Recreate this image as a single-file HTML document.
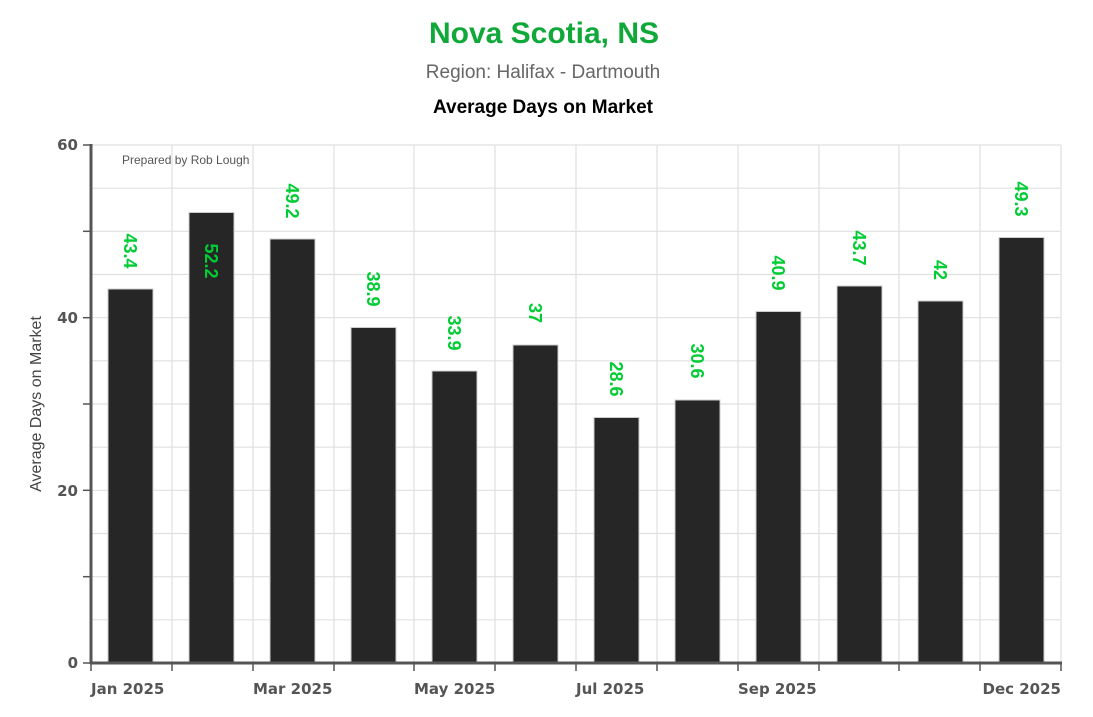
<!DOCTYPE html>
<html><head><meta charset="utf-8"><style>
body{margin:0;background:#fff;width:1093px;height:712px;overflow:hidden;font-family:"Liberation Sans",sans-serif}
</style></head><body>
<svg width="1093" height="712" xmlns="http://www.w3.org/2000/svg" font-family="Liberation Sans, sans-serif">
<text x="544" y="43" text-anchor="middle" font-size="30" font-weight="bold" fill="#11a83a">Nova Scotia, NS</text>
<text x="543" y="78" text-anchor="middle" font-size="19" fill="#666">Region: Halifax - Dartmouth</text>
<text x="543" y="113" text-anchor="middle" font-size="19" font-weight="bold" fill="#000">Average Days on Market</text>
<g stroke="#e0e0e0" stroke-width="1.2">
<line x1="91" y1="145" x2="1061" y2="145"/><line x1="91" y1="188.2" x2="1061" y2="188.2"/><line x1="91" y1="231.3" x2="1061" y2="231.3"/><line x1="91" y1="274.5" x2="1061" y2="274.5"/><line x1="91" y1="317.7" x2="1061" y2="317.7"/><line x1="91" y1="360.8" x2="1061" y2="360.8"/><line x1="91" y1="404" x2="1061" y2="404"/><line x1="91" y1="447.2" x2="1061" y2="447.2"/><line x1="91" y1="490.3" x2="1061" y2="490.3"/><line x1="91" y1="533.5" x2="1061" y2="533.5"/><line x1="91" y1="576.7" x2="1061" y2="576.7"/><line x1="91" y1="619.8" x2="1061" y2="619.8"/>
<line x1="172" y1="145" x2="172" y2="663"/><line x1="253" y1="145" x2="253" y2="663"/><line x1="334" y1="145" x2="334" y2="663"/><line x1="414" y1="145" x2="414" y2="663"/><line x1="495" y1="145" x2="495" y2="663"/><line x1="576" y1="145" x2="576" y2="663"/><line x1="657" y1="145" x2="657" y2="663"/><line x1="738" y1="145" x2="738" y2="663"/><line x1="819" y1="145" x2="819" y2="663"/><line x1="899" y1="145" x2="899" y2="663"/><line x1="980" y1="145" x2="980" y2="663"/><line x1="1061" y1="145" x2="1061" y2="663"/>
</g>
<text x="122" y="164" font-size="12" fill="#555">Prepared by Rob Lough</text>
<g fill="#262626" stroke="#ccc" stroke-width="1">
<rect x="108" y="289" width="45" height="373"/>
<rect x="189" y="212.5" width="45" height="449.5"/>
<rect x="270" y="239" width="45" height="423"/>
<rect x="351" y="327.5" width="45" height="334.5"/>
<rect x="432" y="371" width="45" height="291"/>
<rect x="513" y="345" width="45" height="317"/>
<rect x="594" y="417.5" width="45" height="244.5"/>
<rect x="675" y="400" width="45" height="262"/>
<rect x="756" y="311.5" width="45" height="350.5"/>
<rect x="837" y="286" width="45" height="376"/>
<rect x="918" y="301" width="45" height="361"/>
<rect x="999" y="237.5" width="45" height="424.5"/>
</g>
<g font-size="18" font-weight="bold" fill="#00cc33" text-anchor="middle">
<text transform="translate(124,251) rotate(90)">43.4</text>
<text transform="translate(205,261) rotate(90)">52.2</text>
<text transform="translate(286,201) rotate(90)">49.2</text>
<text transform="translate(367,289) rotate(90)">38.9</text>
<text transform="translate(448,333) rotate(90)">33.9</text>
<text transform="translate(529,313) rotate(90)">37</text>
<text transform="translate(610,379) rotate(90)">28.6</text>
<text transform="translate(691,361) rotate(90)">30.6</text>
<text transform="translate(772,273) rotate(90)">40.9</text>
<text transform="translate(853,248) rotate(90)">43.7</text>
<text transform="translate(934,270) rotate(90)">42</text>
<text transform="translate(1015,199) rotate(90)">49.3</text>
</g>
<g stroke="#555">
<line x1="91" y1="144" x2="91" y2="664" stroke-width="3"/>
<line x1="90" y1="663" x2="1062" y2="663" stroke-width="3"/>
<line x1="83" y1="145" x2="91" y2="145" stroke-width="1.5"/><line x1="83" y1="231.3" x2="91" y2="231.3" stroke-width="1.5"/><line x1="83" y1="317.7" x2="91" y2="317.7" stroke-width="1.5"/><line x1="83" y1="404" x2="91" y2="404" stroke-width="1.5"/><line x1="83" y1="490.3" x2="91" y2="490.3" stroke-width="1.5"/><line x1="83" y1="576.7" x2="91" y2="576.7" stroke-width="1.5"/><line x1="83" y1="663" x2="91" y2="663" stroke-width="1.5"/>
<g stroke-width="1.5"><line x1="91" y1="663" x2="91" y2="671"/><line x1="172" y1="663" x2="172" y2="671"/><line x1="253" y1="663" x2="253" y2="671"/><line x1="334" y1="663" x2="334" y2="671"/><line x1="414" y1="663" x2="414" y2="671"/><line x1="495" y1="663" x2="495" y2="671"/><line x1="576" y1="663" x2="576" y2="671"/><line x1="657" y1="663" x2="657" y2="671"/><line x1="738" y1="663" x2="738" y2="671"/><line x1="819" y1="663" x2="819" y2="671"/><line x1="899" y1="663" x2="899" y2="671"/><line x1="980" y1="663" x2="980" y2="671"/><line x1="1061" y1="663" x2="1061" y2="671"/></g>
</g>
<g font-family="DejaVu Sans, sans-serif" font-size="15" font-weight="bold" fill="#555">
<text x="78" y="150" text-anchor="end">60</text>
<text x="78" y="323" text-anchor="end">40</text>
<text x="78" y="496" text-anchor="end">20</text>
<text x="78" y="668" text-anchor="end">0</text>
<text x="91" y="694">Jan 2025</text>
<text x="253" y="694">Mar 2025</text>
<text x="414" y="694">May 2025</text>
<text x="576" y="694">Jul 2025</text>
<text x="738" y="694">Sep 2025</text>
<text x="1061" y="694" text-anchor="end">Dec 2025</text>
</g>
<text transform="translate(41,404) rotate(-90)" text-anchor="middle" font-size="16" fill="#444">Average Days on Market</text>
</svg>
</body></html>
